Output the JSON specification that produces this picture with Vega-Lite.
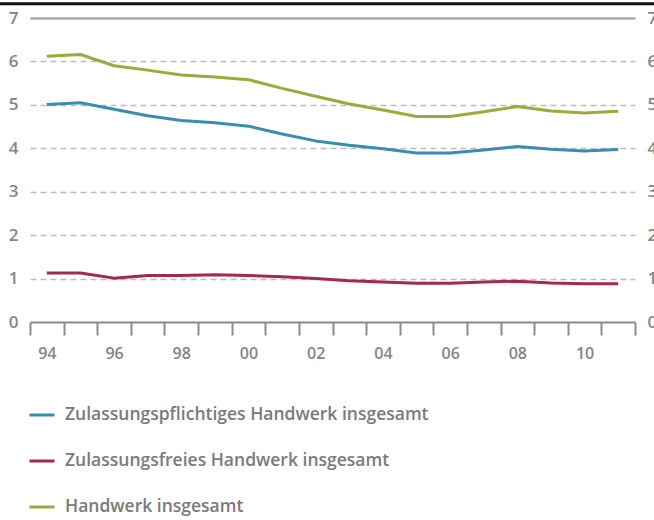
{
  "$schema": "https://vega.github.io/schema/vega-lite/v6.json",
  "width": 605,
  "height": 304,
  "autosize": {"type": "none"},
  "padding": {"left": 30, "top": 18, "right": 19, "bottom": 198},
  "background": "white",
  "config": {"view": {"stroke": null}, "font": "Open Sans"},
  "datasets": {
    "series": [
      {"year": 1994, "series": "Zulassungspflichtiges Handwerk insgesamt", "value": 5.01},
      {"year": 1995, "series": "Zulassungspflichtiges Handwerk insgesamt", "value": 5.05},
      {"year": 1996, "series": "Zulassungspflichtiges Handwerk insgesamt", "value": 4.9},
      {"year": 1997, "series": "Zulassungspflichtiges Handwerk insgesamt", "value": 4.75},
      {"year": 1998, "series": "Zulassungspflichtiges Handwerk insgesamt", "value": 4.64},
      {"year": 1999, "series": "Zulassungspflichtiges Handwerk insgesamt", "value": 4.59},
      {"year": 2000, "series": "Zulassungspflichtiges Handwerk insgesamt", "value": 4.51},
      {"year": 2001, "series": "Zulassungspflichtiges Handwerk insgesamt", "value": 4.33},
      {"year": 2002, "series": "Zulassungspflichtiges Handwerk insgesamt", "value": 4.17},
      {"year": 2003, "series": "Zulassungspflichtiges Handwerk insgesamt", "value": 4.07},
      {"year": 2004, "series": "Zulassungspflichtiges Handwerk insgesamt", "value": 3.99},
      {"year": 2005, "series": "Zulassungspflichtiges Handwerk insgesamt", "value": 3.89},
      {"year": 2006, "series": "Zulassungspflichtiges Handwerk insgesamt", "value": 3.89},
      {"year": 2007, "series": "Zulassungspflichtiges Handwerk insgesamt", "value": 3.96},
      {"year": 2008, "series": "Zulassungspflichtiges Handwerk insgesamt", "value": 4.04},
      {"year": 2009, "series": "Zulassungspflichtiges Handwerk insgesamt", "value": 3.98},
      {"year": 2010, "series": "Zulassungspflichtiges Handwerk insgesamt", "value": 3.94},
      {"year": 2011, "series": "Zulassungspflichtiges Handwerk insgesamt", "value": 3.97},
      {"year": 1994, "series": "Zulassungsfreies Handwerk insgesamt", "value": 1.13},
      {"year": 1995, "series": "Zulassungsfreies Handwerk insgesamt", "value": 1.13},
      {"year": 1996, "series": "Zulassungsfreies Handwerk insgesamt", "value": 1.01},
      {"year": 1997, "series": "Zulassungsfreies Handwerk insgesamt", "value": 1.07},
      {"year": 1998, "series": "Zulassungsfreies Handwerk insgesamt", "value": 1.07},
      {"year": 1999, "series": "Zulassungsfreies Handwerk insgesamt", "value": 1.09},
      {"year": 2000, "series": "Zulassungsfreies Handwerk insgesamt", "value": 1.07},
      {"year": 2001, "series": "Zulassungsfreies Handwerk insgesamt", "value": 1.04},
      {"year": 2002, "series": "Zulassungsfreies Handwerk insgesamt", "value": 1.0},
      {"year": 2003, "series": "Zulassungsfreies Handwerk insgesamt", "value": 0.95},
      {"year": 2004, "series": "Zulassungsfreies Handwerk insgesamt", "value": 0.92},
      {"year": 2005, "series": "Zulassungsfreies Handwerk insgesamt", "value": 0.89},
      {"year": 2006, "series": "Zulassungsfreies Handwerk insgesamt", "value": 0.89},
      {"year": 2007, "series": "Zulassungsfreies Handwerk insgesamt", "value": 0.92},
      {"year": 2008, "series": "Zulassungsfreies Handwerk insgesamt", "value": 0.94},
      {"year": 2009, "series": "Zulassungsfreies Handwerk insgesamt", "value": 0.9},
      {"year": 2010, "series": "Zulassungsfreies Handwerk insgesamt", "value": 0.88},
      {"year": 2011, "series": "Zulassungsfreies Handwerk insgesamt", "value": 0.88},
      {"year": 1994, "series": "Handwerk insgesamt", "value": 6.12},
      {"year": 1995, "series": "Handwerk insgesamt", "value": 6.16},
      {"year": 1996, "series": "Handwerk insgesamt", "value": 5.9},
      {"year": 1997, "series": "Handwerk insgesamt", "value": 5.8},
      {"year": 1998, "series": "Handwerk insgesamt", "value": 5.69},
      {"year": 1999, "series": "Handwerk insgesamt", "value": 5.64},
      {"year": 2000, "series": "Handwerk insgesamt", "value": 5.58},
      {"year": 2001, "series": "Handwerk insgesamt", "value": 5.38},
      {"year": 2002, "series": "Handwerk insgesamt", "value": 5.2},
      {"year": 2003, "series": "Handwerk insgesamt", "value": 5.02},
      {"year": 2004, "series": "Handwerk insgesamt", "value": 4.88},
      {"year": 2005, "series": "Handwerk insgesamt", "value": 4.73},
      {"year": 2006, "series": "Handwerk insgesamt", "value": 4.73},
      {"year": 2007, "series": "Handwerk insgesamt", "value": 4.84},
      {"year": 2008, "series": "Handwerk insgesamt", "value": 4.96},
      {"year": 2009, "series": "Handwerk insgesamt", "value": 4.86},
      {"year": 2010, "series": "Handwerk insgesamt", "value": 4.81},
      {"year": 2011, "series": "Handwerk insgesamt", "value": 4.85}
    ],
    "frame": [{"x0": 1992.5, "x1": 2012.3, "y": 7.33}]
  },
  "layer": [
    {
      "data": {"name": "series"},
      "mark": {"type": "line", "strokeWidth": 3, "strokeJoin": "round"},
      "encoding": {
        "x": {
          "field": "year",
          "type": "quantitative",
          "scale": {"domain": [1993.5, 2011.5], "nice": false, "zero": false},
          "axis": {
            "title": null,
            "values": [1993.5, 1994.5, 1995.5, 1996.5, 1997.5, 1998.5, 1999.5, 2000.5, 2001.5, 2002.5, 2003.5, 2004.5, 2005.5, 2006.5, 2007.5, 2008.5, 2009.5, 2010.5, 2011.5],
            "labelExpr": "datum.value > 2011 || (floor(datum.value) + 1) % 2 == 1 ? '' : slice('0' + ((floor(datum.value) + 1) % 100), -2)",
            "labelOffset": 16.8,
            "labelOverlap": false,
            "labelFlush": false,
            "labelBound": false,
            "labelFontSize": 16,
            "labelFontWeight": 600,
            "labelColor": "#858585",
            "labelPadding": 10,
            "grid": false,
            "domain": true,
            "domainColor": "#8a8a8a",
            "domainWidth": 2,
            "ticks": true,
            "tickColor": "#8a8a8a",
            "tickWidth": 2,
            "tickSize": 13
          }
        },
        "y": {
          "field": "value",
          "type": "quantitative",
          "scale": {"domain": [0, 7], "nice": false},
          "axis": {
            "title": null,
            "orient": "left",
            "values": [0, 1, 2, 3, 4, 5, 6, 7],
            "format": "d",
            "domain": false,
            "ticks": false,
            "labelPadding": 12,
            "labelFontSize": 17,
            "labelFontWeight": 600,
            "labelColor": "#858585",
            "grid": true,
            "gridColor": {"condition": {"test": "datum.value == 7", "value": "#a8a8a8"}, "value": "#bdbdbd"},
            "gridDash": {"condition": {"test": "datum.value == 7", "value": []}, "value": [6, 4]},
            "gridWidth": {"condition": {"test": "datum.value == 7", "value": 2.5}, "value": 1.3},
            "gridOpacity": {"condition": {"test": "datum.value == 0", "value": 0}, "value": 1}
          }
        },
        "color": {
          "field": "series",
          "type": "nominal",
          "scale": {
            "domain": ["Zulassungspflichtiges Handwerk insgesamt", "Zulassungsfreies Handwerk insgesamt", "Handwerk insgesamt"],
            "range": ["#3a8db2", "#a3294f", "#9ea83c"]
          },
          "legend": {
            "orient": "none",
            "legendX": -2,
            "legendY": 383,
            "direction": "vertical",
            "title": null,
            "symbolType": "stroke",
            "symbolSize": 625,
            "symbolStrokeWidth": 3,
            "labelFontSize": 17.5,
            "labelFontWeight": 600,
            "labelColor": "#7a7a7a",
            "labelOffset": 9,
            "labelLimit": 600,
            "rowPadding": 23
          }
        }
      }
    },
    {
      "data": {"name": "frame"},
      "mark": {"type": "rule", "color": "#111111", "strokeWidth": 3},
      "encoding": {
        "x": {"field": "x0", "type": "quantitative", "scale": {"domain": [1993.5, 2011.5], "nice": false, "zero": false}, "axis": null},
        "x2": {"field": "x1"},
        "y": {
          "field": "y",
          "type": "quantitative",
          "scale": {"domain": [0, 7], "nice": false},
          "axis": {
            "title": null,
            "orient": "right",
            "values": [0, 1, 2, 3, 4, 5, 6, 7],
            "format": "d",
            "domain": false,
            "ticks": false,
            "grid": false,
            "labelPadding": 12,
            "labelFontSize": 17,
            "labelFontWeight": 600,
            "labelColor": "#858585"
          }
        }
      }
    }
  ],
  "resolve": {"axis": {"y": "independent", "x": "independent"}}
}
